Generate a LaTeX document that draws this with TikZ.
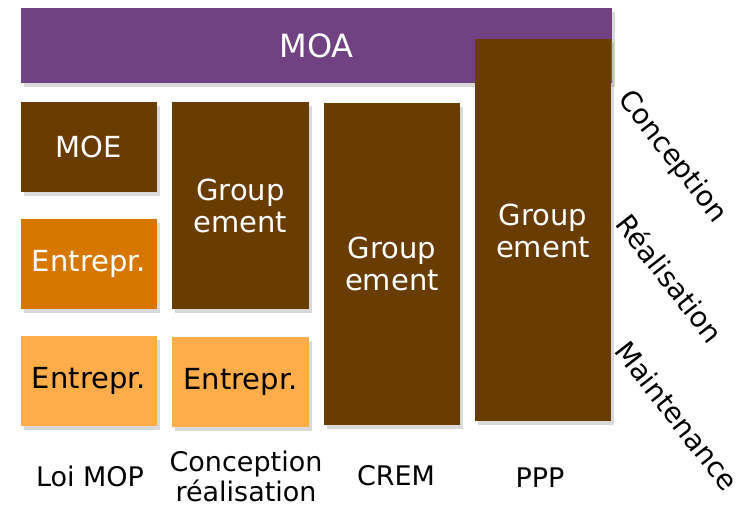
\documentclass[tikz,border=0pt]{standalone}
\usepackage{fontspec}
\setmainfont{DejaVu Sans}
\usetikzlibrary{shadows}

\definecolor{moaviolet}{HTML}{704282}
\definecolor{brun}{HTML}{693C00}
\definecolor{orangefonce}{HTML}{D67800}
\definecolor{orangeclair}{HTML}{FFAD4A}

\tikzset{
  bloc/.style={inner sep=0pt, outer sep=0pt, align=center,
    font=\fontsize{29}{32}\selectfont,
    drop shadow={shadow xshift=3pt, shadow yshift=-4pt, opacity=0.3}},
  blocbrun/.style={bloc, fill=brun, text=white},
  blocorange/.style={bloc, fill=orangefonce, text=white},
  blocclair/.style={bloc, fill=orangeclair, text=black},
  phase/.style={rotate=-52, font=\fontsize{28}{30}\selectfont},
  colonne/.style={align=center, font=\fontsize{27}{30}\selectfont}
}

\begin{document}
\begin{tikzpicture}[x=1pt, y=-1pt]
      \useasboundingbox (0,0) rectangle (740,505);
      \node[bloc, fill=moaviolet, text=white, minimum width=591pt, minimum height=75pt,
        font=\fontsize{32}{34}\selectfont] (moa) at (316.5,45.5) {MOA};
      \node[blocbrun, minimum width=136pt, minimum height=382pt] (ppp) at (543,230.5) {Group\\ement};
      \node[blocbrun, minimum width=136pt, minimum height=90pt] (moe) at (89,147) {MOE};
      \node[blocorange, minimum width=136pt, minimum height=90pt] (entmop) at (89,264) {Entrepr.};
      \node[blocclair, minimum width=136pt, minimum height=90pt] (entmaint) at (89,381) {Entrepr.};
      \node[blocbrun, minimum width=137pt, minimum height=207pt] (grpcr) at (240.5,205.5) {Group\\ement};
      \node[blocclair, minimum width=137pt, minimum height=90pt] (entcr) at (240.5,382) {Entrepr.};
      \node[blocbrun, minimum width=136pt, minimum height=322pt] (crem) at (392,264) {Group\\ement};
      \node[phase] (conception) at (672,157) {Conception};
      \node[phase] (realisation) at (670,278) {Réalisation};
      \node[phase] (maintenance) at (677,416) {Maintenance};
      \node[colonne] (loimop) at (90,476) {Loi MOP};
      \node[colonne] (concreal) at (246,476) {Conception\\réalisation};
      \node[colonne] (cremlbl) at (396,476) {CREM};
      \node[colonne] (ppplbl) at (540,478) {PPP};
    \end{tikzpicture}
\end{document}
